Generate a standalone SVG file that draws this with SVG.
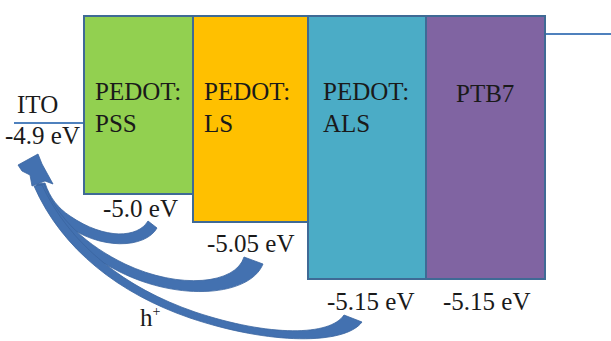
<svg xmlns="http://www.w3.org/2000/svg" width="611" height="341" viewBox="0 0 611 341">
<style>
.box{stroke:#3F6A95;stroke-width:2}
.t{font-family:"Liberation Serif","Times New Roman",serif;font-size:25px;fill:#1a1a1a}
.lvl{stroke:#4F81BD;stroke-width:2;fill:none}
.arr{fill:#4371B0;stroke:#3A64A0;stroke-width:0.8}
</style>
<rect width="611" height="341" fill="#ffffff"/>
<g id="ito">
<line class="lvl" x1="14" y1="123" x2="84" y2="123"/>
<text class="t" x="17" y="113">ITO</text>
<text class="t" x="5" y="144">-4.9 eV</text>
</g>
<g id="pss">
<rect class="box" x="84" y="16" width="109" height="178" fill="#92D050"/>
<text class="t" x="95" y="100">PEDOT:</text>
<text class="t" x="95" y="132">PSS</text>
<text class="t" x="103" y="217">-5.0 eV</text>
</g>
<g id="ls">
<rect class="box" x="193" y="16" width="115" height="206" fill="#FFC000"/>
<text class="t" x="204" y="100">PEDOT:</text>
<text class="t" x="204" y="132">LS</text>
<text class="t" x="207" y="252">-5.05 eV</text>
</g>
<g id="als">
<rect class="box" x="308" y="16" width="118" height="263" fill="#4BACC6"/>
<text class="t" x="323" y="100">PEDOT:</text>
<text class="t" x="323" y="132">ALS</text>
<text class="t" x="327" y="310">-5.15 eV</text>
</g>
<g id="ptb7">
<line class="lvl" x1="545" y1="34" x2="611" y2="34"/>
<rect class="box" x="426" y="16" width="119" height="263" fill="#8064A2"/>
<text class="t" x="456" y="102">PTB7</text>
<text class="t" x="443" y="310">-5.15 eV</text>
</g>
<g id="connectors">
<path class="arr" d="M148,221 L157,228 C146,248 100,252 62,222 C48,210 41,198 37,184 L45,183 C50,198 58,208 70,216 C105,240 138,238 148,221 Z"/>
<path class="arr" d="M244,257 L263,264 C250,296 180,302 120,272 C80,252 50,225 36,185 L44,184 C58,220 88,246 125,264 C180,290 236,284 244,257 Z"/>
<path class="arr" d="M344,315 L362,322 C345,345 270,345 190,318 C120,294 62,250 34,186 L42,185 C70,245 125,288 195,312 C270,337 330,336 344,315 Z"/>
<path class="arr" d="M18,165 L38,154 L42,164 L53,184 L45,181 L32,186 L30,175 L22,171 Z"/>
<text class="t" x="140" y="326">h<tspan font-size="14" dy="-10">+</tspan></text>
</g>
</svg>
